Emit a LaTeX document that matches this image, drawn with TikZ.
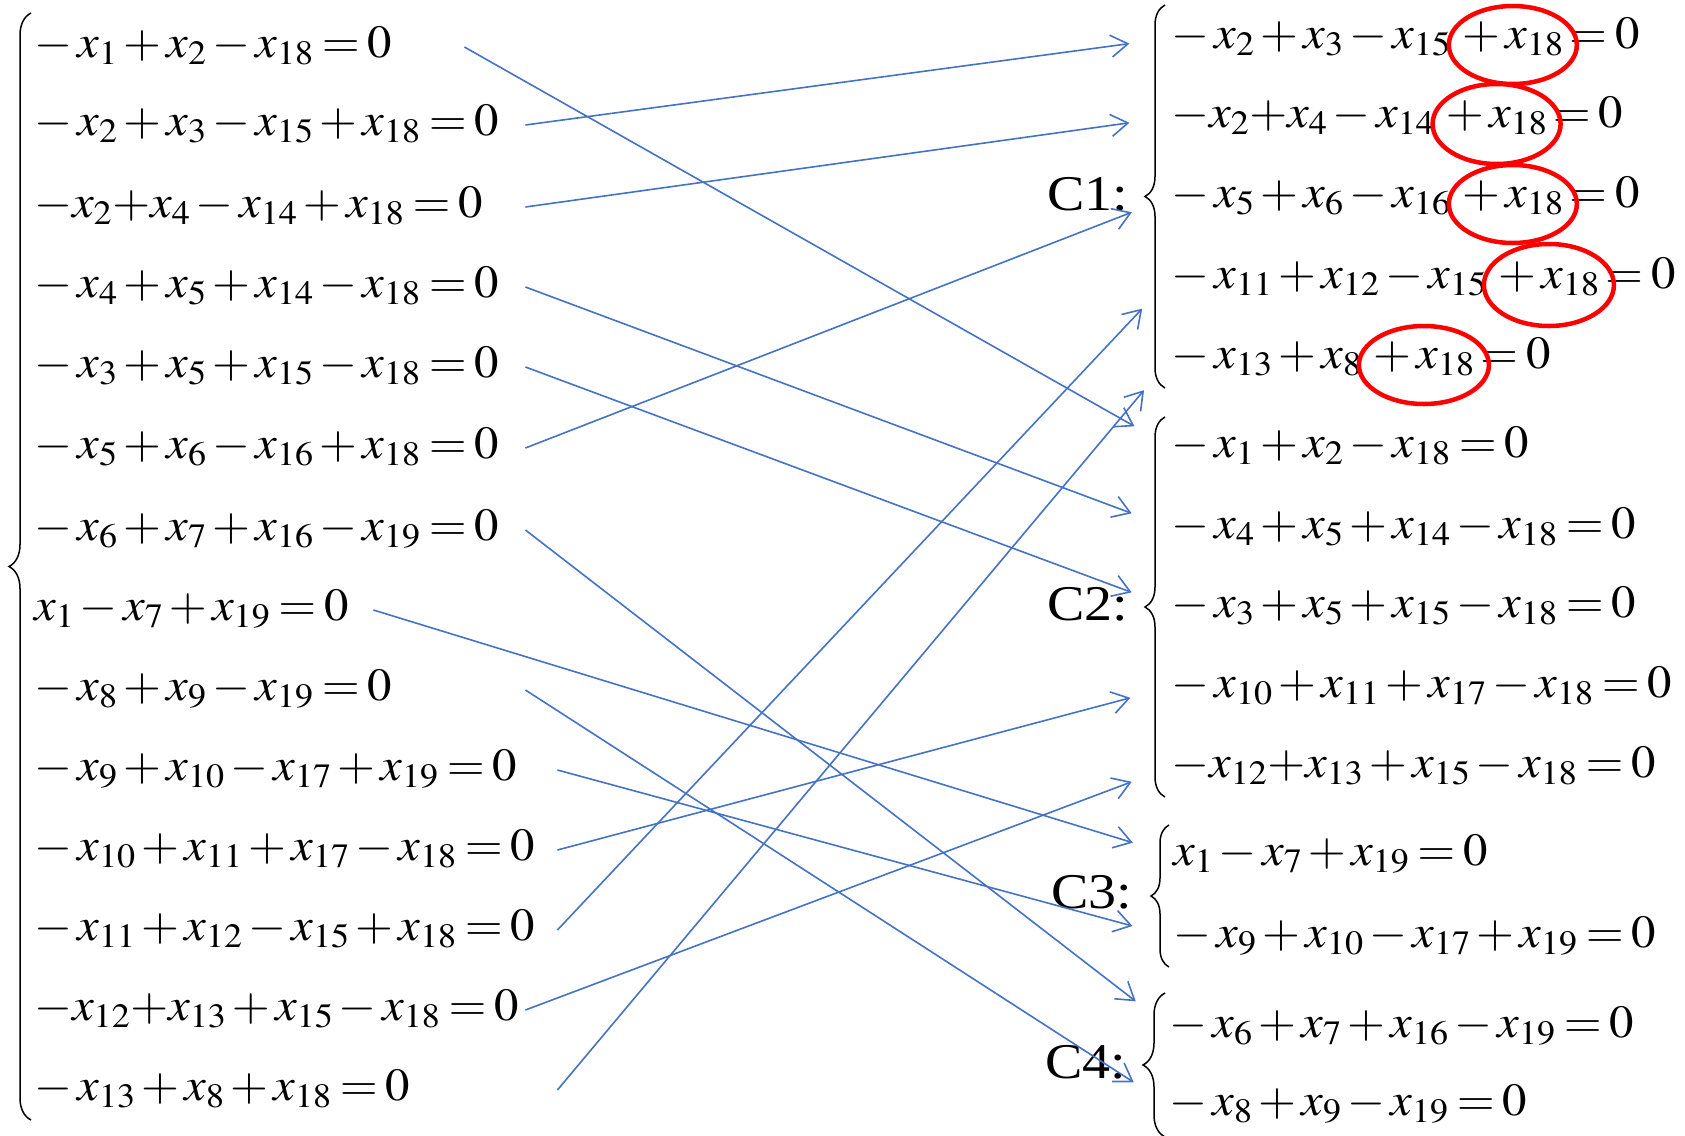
\documentclass[tikz,border=0pt]{standalone}
\usepackage{mathptmx}
\usepackage[no-math]{fontspec}
\setmainfont{Liberation Serif}
\usepackage{graphicx}
\usetikzlibrary{positioning,arrows.meta,decorations.pathreplacing}
\definecolor{linkblue}{RGB}{68,114,196}
\newcommand{\lmin}{-\mskip2mu}
\newcommand{\lplus}{+\mskip2mu}
\newcommand{\eqn}[1]{\scalebox{1.06}[1]{$\medmuskip=2mu\thickmuskip=3mu #1$}}
\newcommand{\wide}[1]{\scalebox{1.12}[1]{#1}}

\begin{document}
\begin{tikzpicture}[x=1pt, y=-1pt,
    eq/.style={inner sep=0pt, text height=33pt, text depth=12pt, anchor=west, font=\fontsize{46}{52}\selectfont},
    lefteq/.style={eq, text width=#1, align=left},
    ring/.style={draw=red, line width=4.5pt},
    sysbrace/.style={decorate, decoration={brace, amplitude=#1}, line width=1.5pt},
    systag/.style={anchor=base west, inner sep=0pt, font=\fontsize{50}{56}\selectfont},
    link/.style={color=linkblue, line width=1.6pt, -{Straight Barb[length=17pt, width=22pt]}, shorten >=42pt}]
\useasboundingbox (0,0) rectangle (1685,1135);

\node[lefteq=430pt] (L1) at (34,47) {\eqn{\lmin x_1+x_2-x_{18}=0}};
\node[lefteq=491pt] (L2) at (34,125) {\eqn{\lmin x_2+x_3-x_{15}+x_{18}=0}};
\node[lefteq=491pt] (L3) at (34,207) {\eqn{-x_2{+}x_4-x_{14}+x_{18}=0}};
\node[lefteq=491pt] (L4) at (34,287) {\eqn{\lmin x_4+x_5+x_{14}-x_{18}=0}};
\node[lefteq=491pt] (L5) at (34,367) {\eqn{\lmin x_3+x_5+x_{15}-x_{18}=0}};
\node[lefteq=491pt] (L6) at (34,448) {\eqn{\lmin x_5+x_6-x_{16}+x_{18}=0}};
\node[lefteq=491pt] (L7) at (34,530) {\eqn{\lmin x_6+x_7+x_{16}-x_{19}=0}};
\node[lefteq=339pt] (L8) at (34,610) {\eqn{x_1-x_7+x_{19}=0}};
\node[lefteq=491pt] (L9) at (34,690) {\eqn{\lmin x_8+x_9-x_{19}=0}};
\node[lefteq=523pt] (L10) at (34,770) {\eqn{\lmin x_9+x_{10}-x_{17}+x_{19}=0}};
\node[lefteq=523pt] (L11) at (34,850) {\eqn{\lmin x_{10}+x_{11}+x_{17}-x_{18}=0}};
\node[lefteq=523pt] (L12) at (34,930) {\eqn{\lmin x_{11}+x_{12}-x_{15}+x_{18}=0}};
\node[lefteq=491pt] (L13) at (34,1010) {\eqn{-x_{12}{+}x_{13}+x_{15}-x_{18}=0}};
\node[lefteq=523pt] (L14) at (34,1090) {\eqn{\lmin x_{13}+x_8+x_{18}=0}};
\draw[sysbrace=22pt] (31,1120) -- (31,13);

\node[systag] (C1) at (1047,210) {\wide{C1:}};
\node[eq] (C1a) at (1171,38) {\eqn{\lmin x_2+x_3-x_{15}}};
\node[eq, right=11pt of C1a] (C1ax) {\eqn{\lplus x_{18}}};
\node[eq, right=5pt of C1ax] (C1az) {\eqn{=0}};
\node[eq] (C1b) at (1171,117) {\eqn{-x_2{+}x_4-x_{14}}};
\node[eq, right=11pt of C1b] (C1bx) {\eqn{\lplus x_{18}}};
\node[eq, right=5pt of C1bx] (C1bz) {\eqn{=0}};
\node[eq] (C1c) at (1171,197) {\eqn{\lmin x_5+x_6-x_{16}}};
\node[eq, right=11pt of C1c] (C1cx) {\eqn{\lplus x_{18}}};
\node[eq, right=5pt of C1cx] (C1cz) {\eqn{=0}};
\node[eq] (C1d) at (1171,278) {\eqn{\lmin x_{11}+x_{12}-x_{15}}};
\node[eq, right=11pt of C1d] (C1dx) {\eqn{\lplus x_{18}}};
\node[eq, right=5pt of C1dx] (C1dz) {\eqn{=0}};
\node[eq] (C1e) at (1171,358) {\eqn{\lmin x_{13}+x_8}};
\node[eq, right=11pt of C1e] (C1ex) {\eqn{\lplus x_{18}}};
\node[eq, right=5pt of C1ex] (C1ez) {\eqn{=0}};
\draw[ring] ([yshift=-7pt]C1ax.center) ellipse [x radius=64, y radius=39];
\draw[ring] ([yshift=-7pt]C1bx.center) ellipse [x radius=64, y radius=40];
\draw[ring] ([yshift=-7pt]C1cx.center) ellipse [x radius=64, y radius=39];
\draw[ring] ([yshift=-7pt]C1dx.center) ellipse [x radius=65, y radius=41];
\draw[ring] ([yshift=-7pt]C1ex.center) ellipse [x radius=65, y radius=39];
\draw[sysbrace=20pt] (1165,388) -- (1165,5);

\node[systag] (C2) at (1047,620) {\wide{C2:}};
\node[eq] (C2a) at (1171,447) {\eqn{\lmin x_1+x_2-x_{18}=0}};
\node[eq] (C2b) at (1171,528) {\eqn{\lmin x_4+x_5+x_{14}-x_{18}=0}};
\node[eq] (C2c) at (1171,607) {\eqn{\lmin x_3+x_5+x_{15}-x_{18}=0}};
\node[eq] (C2d) at (1171,687) {\eqn{\lmin x_{10}+x_{11}+x_{17}-x_{18}=0}};
\node[eq] (C2e) at (1171,767) {\eqn{-x_{12}{+}x_{13}+x_{15}-x_{18}=0}};
\draw[sysbrace=20pt] (1165,797) -- (1165,417);

\node[systag] (C3) at (1051,908) {\wide{C3:}};
\node[eq] (C3a) at (1173,855) {\eqn{x_1-x_7+x_{19}=0}};
\node[eq] (C3b) at (1173,937) {\eqn{\lmin x_9+x_{10}-x_{17}+x_{19}=0}};
\draw[sysbrace=18pt] (1169,967) -- (1169,825);

\node[systag] (C4) at (1045,1078) {\wide{C4:}};
\node[eq] (C4a) at (1169,1027) {\eqn{\lmin x_6+x_7+x_{16}-x_{19}=0}};
\node[eq] (C4b) at (1169,1105) {\eqn{\lmin x_8+x_9-x_{19}=0}};
\draw[sysbrace=22pt] (1165,1137) -- (1165,993);

\path[link]
  (L1.east) edge (C2a.west)
  (L2.east) edge (C1a.west)
  (L3.east) edge (C1b.west)
  (L4.east) edge (C2b.west)
  (L5.east) edge (C2c.west)
  (L6.east) edge (C1c.west)
  (L7.east) edge (C4a.west)
  (L8.east) edge (C3a.west)
  (L9.east) edge (C4b.west)
  (L10.east) edge (C3b.west)
  (L11.east) edge (C2d.west)
  (L12.east) edge (C1d.west)
  (L13.east) edge (C2e.west)
  (L14.east) edge (C1e.west);
\end{tikzpicture}
\end{document}
